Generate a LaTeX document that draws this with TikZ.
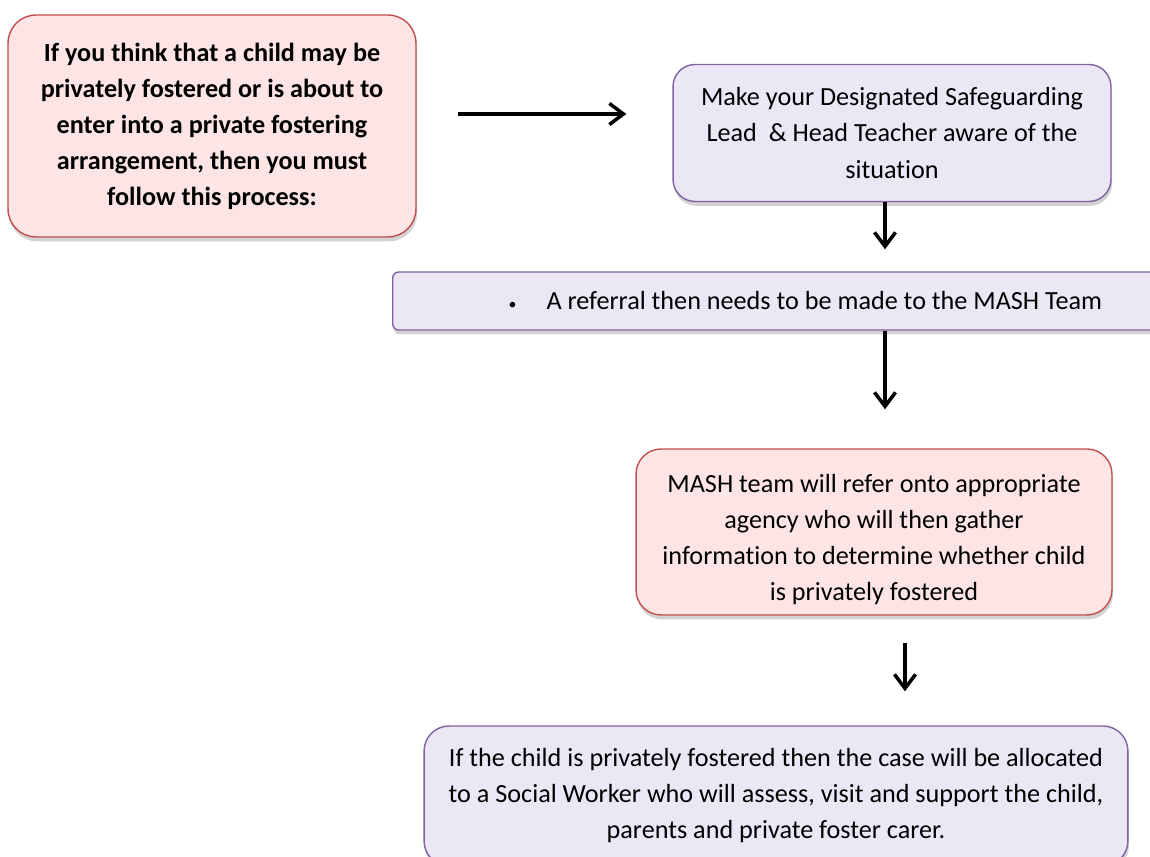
\documentclass[tikz,border=0pt]{standalone}
\usepackage{fontspec}
\setmainfont{Carlito}[Ligatures=NoCommon]
\usetikzlibrary{arrows.meta, positioning, shadows}
\definecolor{redfill}{HTML}{FDE4E5}
\definecolor{redline}{HTML}{C0504D}
\definecolor{purpfill}{HTML}{ECE7F5}
\definecolor{purpline}{HTML}{8064A2}

\begin{document}
\begin{tikzpicture}[x=0.02cm, y=-0.02cm,
    box/.style={draw, line width=0.8pt, align=center, inner sep=0pt,
        font=\fontsize{14.9}{20.5}\selectfont,
        drop shadow={shadow xshift=0.6pt, shadow yshift=-2.5pt, opacity=0.35}},
    redbox/.style={box, draw=redline, fill=redfill},
    purpbox/.style={box, draw=purpline, fill=purpfill},
    flow/.style={line width=2pt, -{Straight Barb[length=8pt, width=12pt, line width=2pt]}}]
    \useasboundingbox (0,0) rectangle (1150,857);

    \node [redbox, rounded corners=0.56cm, minimum width=8.16cm, minimum height=4.44cm,
        font=\fontsize{14.9}{20.5}\selectfont\bfseries] (intro) at (212,126)
        {If you think that a child may be\\ privately fostered or is about to\\
         enter into a private fostering\\ arrangement, then you must\\ follow this process:};
    \node [purpbox, rounded corners=0.44cm, minimum width=8.76cm, minimum height=2.74cm]
        (dsl) at (892,133)
        {Make your Designated Safeguarding\\ Lead \ \& Head Teacher aware of the\\ situation};
    \node [purpbox, rounded corners=0.12cm, minimum width=15.36cm, minimum height=1.16cm,
        anchor=west] (referral) at (392,301)
        {\hspace*{2.25cm}{\small\textbullet}\hspace{0.6cm}A referral then needs to be made to the MASH Team\hspace*{1.1cm}};
    \node [redbox, rounded corners=0.5cm, minimum width=9.52cm, minimum height=3.32cm]
        (mash) at (874,532)
        {\rule{0pt}{19pt}MASH team will refer onto appropriate\\ agency who will then gather\\
         information to determine whether child\\ is privately fostered};
    \node [purpbox, rounded corners=0.5cm, minimum width=14.08cm, minimum height=2.8cm]
        (worker) at (776,796)
        {If the child is privately fostered then the case will be allocated\\
         to a Social Worker who will assess, visit and support the child,\\
         parents and private foster carer.};

    \draw[flow, line width=2.4pt, shorten <=0.82cm, shorten >=0.92cm]
        ([yshift=0.24cm]intro.east) -- ([yshift=0.24cm]intro.east -| dsl.west);
    \draw[flow, shorten >=0.44cm]
        ([xshift=-0.14cm]dsl.south) -- ([xshift=-0.14cm]dsl.south |- referral.north);
    \draw[flow, shorten >=0.78cm]
        ([xshift=-0.14cm]dsl.south |- referral.south) -- ([xshift=-0.14cm]dsl.south |- mash.north);
    \draw[flow, shorten <=0.54cm, shorten >=0.68cm]
        ([xshift=0.62cm]mash.south) -- ([xshift=0.62cm]mash.south |- worker.north);
\end{tikzpicture}
\end{document}
